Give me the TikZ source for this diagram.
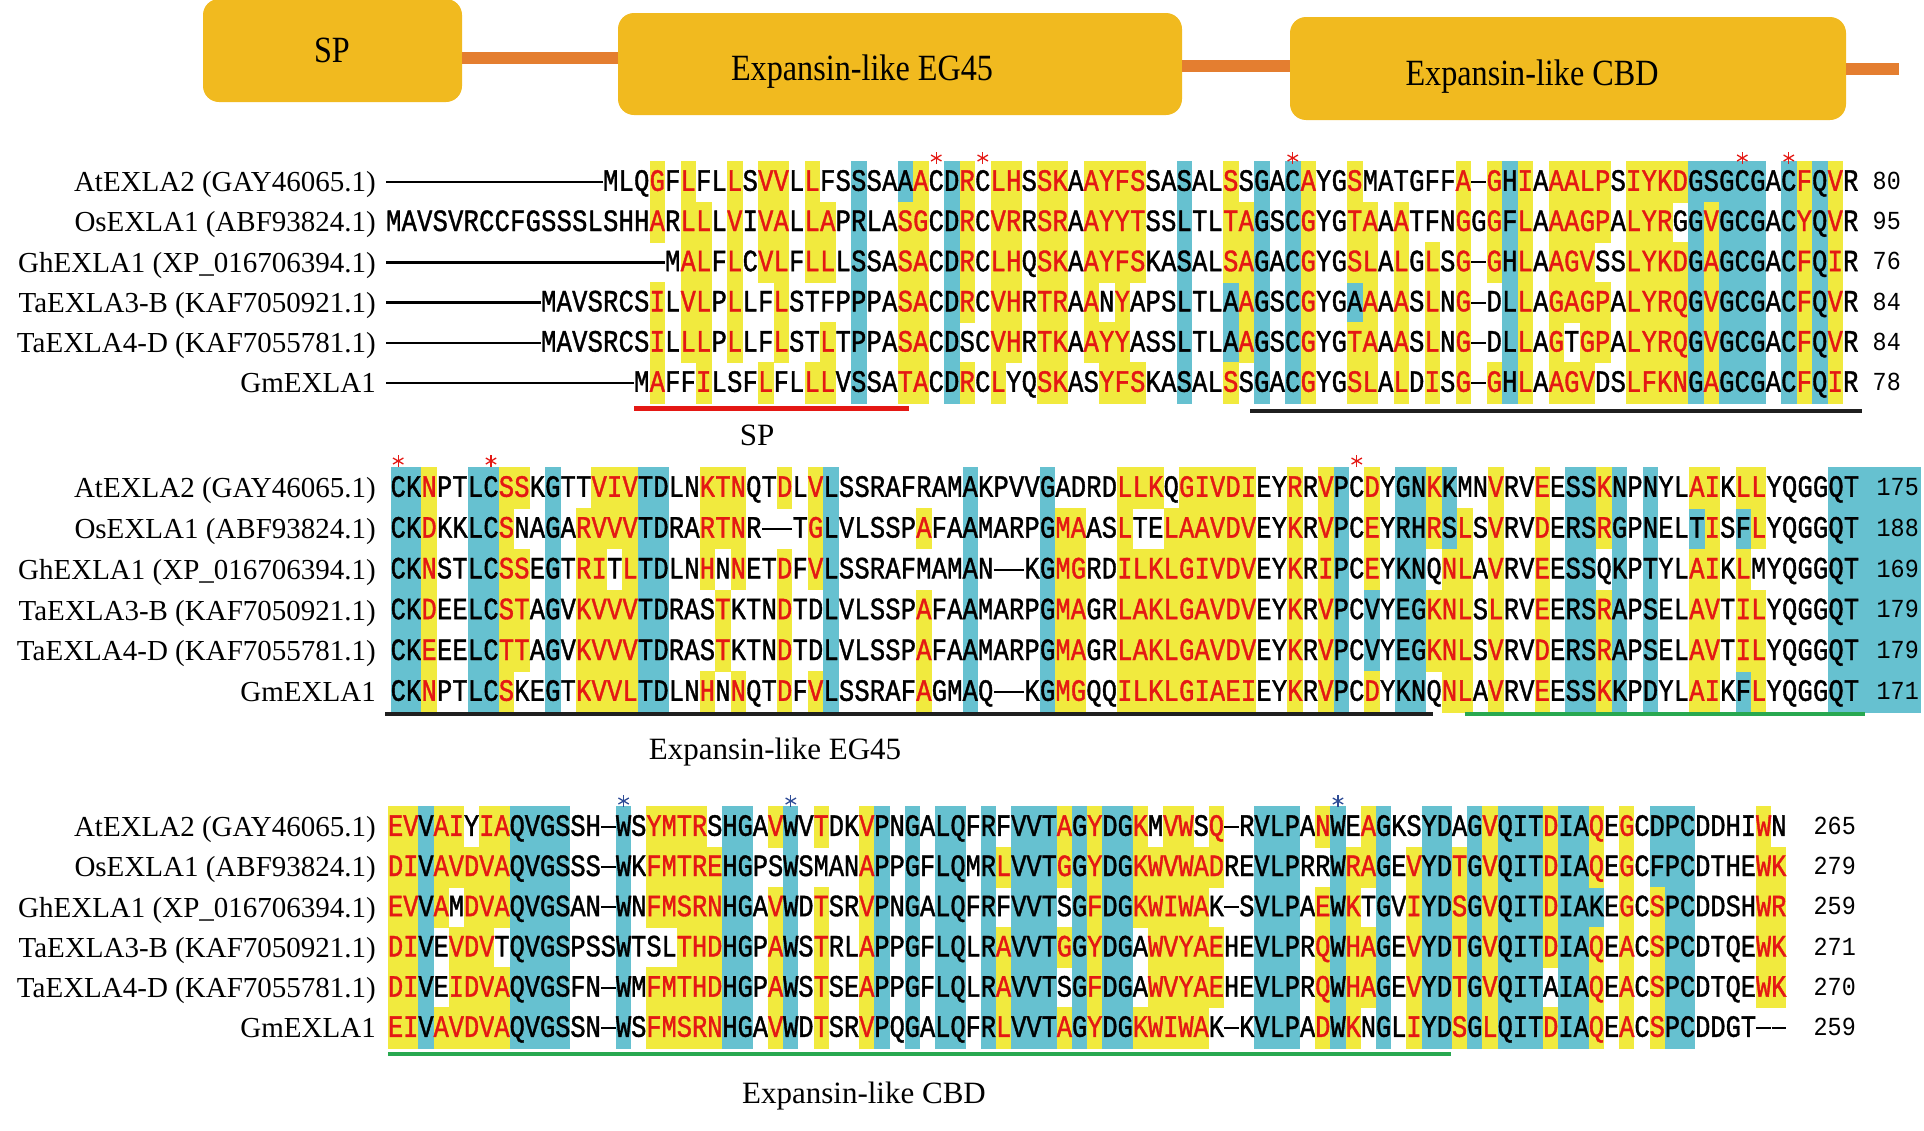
\documentclass[tikz,border=0pt]{standalone}
\usepackage{fontspec}
\setmainfont{Liberation Serif}
\newfontfamily\headfont[FakeStretch=0.87]{Liberation Serif}
\newfontfamily\seqfont[FakeStretch=0.82,FakeBold=1.2]{Liberation Mono}
\newfontfamily\numfont[FakeStretch=0.9]{Liberation Mono}

\definecolor{domfill}{RGB}{241,186,31}
\definecolor{linkorange}{RGB}{228,126,48}
\definecolor{consyellow}{RGB}{241,234,62}
\definecolor{identblue}{RGB}{102,193,208}
\definecolor{redletter}{RGB}{228,24,20}
\definecolor{markblue}{RGB}{45,75,150}
\definecolor{cbdgreen}{RGB}{40,168,80}

\tikzset{
	dombox/.style={fill=domfill, rounded corners=16pt, inner sep=0pt},
	domtext/.style={font=\headfont\fontsize{37}{37}\selectfont, inner sep=0pt, anchor=base},
	linker/.style={draw=linkorange, line width=12pt},
	seqname/.style={font=\fontsize{29}{29}\selectfont, inner sep=0pt, anchor=base east},
	res/.style={font=\seqfont\fontsize{31}{31}\selectfont, inner sep=0pt, anchor=base},
	resred/.style={res, text=redletter},
	conscell/.style={fill=consyellow},
	idcell/.style={fill=identblue},
	gapline/.style={line width=2.4pt},
	gapdash/.style={line width=2pt},
	seqnum/.style={font=\numfont\fontsize{26}{26}\selectfont, inner sep=0pt, anchor=base east},
	region/.style={line width=4.2pt},
	regname/.style={font=\fontsize{31}{31}\selectfont, inner sep=0pt, anchor=base}
}

\makeatletter
\newcount\rescol
% строка выравнивания: x0, шаг, y, остатки (строчные = консервативные)
\newcommand\seqrow[4]{%
	\rescol=0
	\@tfor\res:=#4\do{%
		\advance\rescol by 1
		\pgfmathsetmacro\resl{#1+(\the\rescol-1)*#2}%
		\pgfmathsetmacro\resr{#1+\the\rescol*#2}%
		\pgfmathsetmacro\resc{#1+(\the\rescol-0.5)*#2}%
		\if\res.%
			\draw [gapline] (\resl,#3) -- (\resr,#3);%
		\else\if\res-%
			\draw [gapdash] (\resl+0.3,#3) -- (\resr-0.3,#3);%
		\else\ifnum\expandafter`\res>96
			\fill [conscell] (\resl,#3-20.6) rectangle (\resr,#3+20.6);%
			\node [resred] at (\resc,#3+8.8) {\expandafter\uppercase\expandafter{\res}};%
		\else
			\node [res] at (\resc,#3+8.8) {\res};%
		\fi\fi\fi}}
% идентичные столбцы: x0, шаг, верх, низ, маска
\newcommand\idcols[5]{%
	\rescol=0
	\@tfor\res:=#5\do{%
		\advance\rescol by 1
		\if\res b%
			\fill [idcell] ({#1+(\the\rescol-1)*#2},#3) rectangle ({#1+\the\rescol*#2},#4);%
		\fi}}
\makeatother
% звёздочка над цистеином / триптофаном
\newcommand\cysmark[3]{%
	\foreach \ang in {90,30,150}
		\draw [draw=#3, line width=1.3pt] (#1,#2) ++(\ang:6) -- ++(\ang+180:12);}

\begin{document}
\begin{tikzpicture}[x=1pt, y=-1pt]
	\useasboundingbox (0,0) rectangle (1924,1130);

	% домены
	\node [dombox, minimum width=259pt, minimum height=103pt] (sp) at (332.5,50.5) {};
	\node [dombox, minimum width=564pt, minimum height=102pt] (eg) at (900,64) {};
	\node [dombox, minimum width=556pt, minimum height=103pt] (cbd) at (1568,68.5) {};
	\coordinate (tail) at (1899,69);
	\draw [linker] ([yshift=-7.5pt]sp.east) -- ([yshift=6pt]eg.west);
	\draw [linker] ([yshift=-1.5pt]eg.east) -- ([yshift=3pt]cbd.west);
	\draw [linker] ([yshift=-0.5pt]cbd.east) -- (tail);
	\node [domtext] (sptext) at (332,62) {SP};
	\node [domtext] (egtext) at (862,80) {Expansin-like EG45};
	\node [domtext] (cbdtext) at (1532,85) {Expansin-like CBD};

	% блок 1
	\idcols{386}{15.5}{161.4}{403.6}{..............................b..bb.b.....b........b..b.b.bb..b.........b.........b.bbbbb.b.b}
	\seqrow{386}{15.5}{182}{..............MLQgFlFLlSvvLlFSSSAAaCDrClhSskAayfsSASALsSGACaYGsMATGFFa-gHiAaalpSiykdGSGCGACfQvR}
	\seqrow{386}{15.5}{222.2}{MAVSVRCCFGSSSLSHHaRllLvIvaLlaPRLAsgCDrCvrRsrAayytSSLTLtaGSCgYGtaAaTFNgGgFlAaagpAlyrGGvGCGACyQvR}
	\seqrow{386}{15.5}{262.4}{..................MalFlCvlFllLSSAsaCDrClhQskAayfsKASALsaGACgYGslAlGlSg-gHlAagvSSlykdGaGCGACfQiR}
	\seqrow{386}{15.5}{302.6}{..........MAVSRCSiLvlPlLFlSTFPPPAsaCDrCvhRtrAaNyAPSLTLAaGSCgYGAaAaSlNg-DLlAgagpAlyrqGvGCGACfQvR}
	\seqrow{386}{15.5}{342.8}{..........MAVSRCSiLllPlLFlSTlTPPAsaCDSCvhRtkAayyASSLTLAaGSCgYGtaAaSlNg-DLlAgTgpAlyrqGvGCGACfQvR}
	\seqrow{386}{15.5}{383}{................MaFFiLSFlFLllVSSAtaCDrClYQskASyfsKASALsSGACgYGslAlDiSg-gHlAagvDSlfknGaGCGACfQiR}
	\node [seqname] (at1) at (376,182+9.6) {AtEXLA2 (GAY46065.1)};
	\node [seqname] (os1) at (376,222.2+9.6) {OsEXLA1 (ABF93824.1)};
	\node [seqname] (gh1) at (376,262.4+9.6) {GhEXLA1 (XP\_016706394.1)};
	\node [seqname] (ta31) at (376,302.6+9.6) {TaEXLA3-B (KAF7050921.1)};
	\node [seqname] (ta41) at (376,342.8+9.6) {TaEXLA4-D (KAF7055781.1)};
	\node [seqname] (gm1) at (376,383+9.6) {GmEXLA1};
	\node [seqnum] (at1n) at (1901,182+7.5) {80};
	\node [seqnum] (os1n) at (1901,222.2+7.5) {95};
	\node [seqnum] (gh1n) at (1901,262.4+7.5) {76};
	\node [seqnum] (ta31n) at (1901,302.6+7.5) {84};
	\node [seqnum] (ta41n) at (1901,342.8+7.5) {84};
	\node [seqnum] (gm1n) at (1901,383+7.5) {78};
	\cysmark{936.25}{158}{redletter}
	\cysmark{982.75}{158}{redletter}
	\cysmark{1292.75}{158}{redletter}
	\cysmark{1742.25}{158}{redletter}
	\cysmark{1788.75}{158}{redletter}
	\draw [region, draw=redletter] (634,408.5) -- (909,408.5);
	\draw [region, draw=black!88] (1250,411) -- (1862,411);
	\node [regname] (spname) at (757,445) {SP};

	% блок 2
	\idcols{390.5}{15.46}{467.4}{712.6}{bb...bb...b.....bb..........b........b....b.................bb.b.bb.b.......bb.b.b..b..b.....bbbbbb}
	\seqrow{390.5}{15.46}{488}{CKnPTLCssKGTTvivTDLNktnQTdLvLSSRAFRAMAKPVVGADRDllkQgivdiEYrRvPCdYGNkKMNvRVeESSkNPNYLaiKllYQGGQT}
	\seqrow{390.5}{15.46}{528.8}{CKdKKLCsNAGArvvvTDRArtnR--TgLVLSSPaFAAMARPGmaASlTElaavdvEYkRvPCeYRHrSlSvRVdERSrGPNELTiSFlYQGGQT}
	\seqrow{390.5}{15.46}{569.6}{CKnSTLCssEGTriTlTDLNhNnETdFvLSSRAFMAMAN--KGmgRDilklgivdvEYkRiPCeYKNQnlAvRVeESSQKPTYLaiKlMYQGGQT}
	\seqrow{390.5}{15.46}{610.4}{CKdEELCstAGVkvvvTDRAStKTNdTDLVLSSPaFAAMARPGmaGRlaklgavdvEYkRvPCVYEGknlSlRVeERSrAPSELavTilYQGGQT}
	\seqrow{390.5}{15.46}{651.2}{CKeEELCttAGVkvvvTDRAStKTNdTDLVLSSPaFAAMARPGmaGRlaklgavdvEYkRvPCVYEGknlSvRVdERSrAPSELavTilYQGGQT}
	\seqrow{390.5}{15.46}{692}{CKnPTLCsKEGTkvvlTDLNhNnQTdFvLSSRAFaGMAQ--KGmgQQilklgiaeiEYkRvPCdYKNQnlAvRVeESSkKPDYLaiKFlYQGGQT}
	\node [seqname] (at2) at (376,488+9.6) {AtEXLA2 (GAY46065.1)};
	\node [seqname] (os2) at (376,528.8+9.6) {OsEXLA1 (ABF93824.1)};
	\node [seqname] (gh2) at (376,569.6+9.6) {GhEXLA1 (XP\_016706394.1)};
	\node [seqname] (ta32) at (376,610.4+9.6) {TaEXLA3-B (KAF7050921.1)};
	\node [seqname] (ta42) at (376,651.2+9.6) {TaEXLA4-D (KAF7055781.1)};
	\node [seqname] (gm2) at (376,692+9.6) {GmEXLA1};
	\node [seqnum] (at2n) at (1919,488+7.5) {175};
	\node [seqnum] (os2n) at (1919,528.8+7.5) {188};
	\node [seqnum] (gh2n) at (1919,569.6+7.5) {169};
	\node [seqnum] (ta32n) at (1919,610.4+7.5) {179};
	\node [seqnum] (ta42n) at (1919,651.2+7.5) {179};
	\node [seqnum] (gm2n) at (1919,692+7.5) {171};
	\cysmark{398.2}{461}{redletter}
	\cysmark{491}{461}{redletter}
	\cysmark{1356.75}{461}{redletter}
	\draw [region, draw=black!88] (385,714) -- (1433,714);
	\draw [region, draw=cbdgreen] (1465,714) -- (1865,714);
	\node [regname] (egname) at (775,759) {Expansin-like EG45};

	% блок 3
	\idcols{388}{15.2}{806.4}{1048.6}{..b.....bbbb...b......bb..b.....b.b.bb.b.bbb.b.bb........bbb..b..b..bb.b.bbb.bbb.b.bbb.....}
	\seqrow{388}{15.2}{827}{evVaiYiaQVGSSH-WSymtrSHGAvWVtDKvPNGALQFRFVVTaGyDGkMvwSq-RVLPAnWEaGKSYDAGvQITdIAqEgCDPCDDHIwN}
	\seqrow{388}{15.2}{867.2}{diVavdvaQVGSSS-WKfmtreHGPSWSMANaPPGFLQMRlVVTgGyDGkwvwadREVLPRRWraGEvYDtGvQITdIAqEgCFPCDTHEwk}
	\seqrow{388}{15.2}{907.4}{evVaMdvaQVGSAN-WNfmsrnHGAvWDtSRvPNGALQFRFVVTSGfDGkwiwaK-SVLPAeWkTGViYDsGvQITdIAKEgCsPCDDSHwr}
	\seqrow{388}{15.2}{947.6}{diVEvdvTQVGSPSSWTSLthdHGPaWStRLaPPGFLQLRaVVTgGyDGAwvyaeHEVLPRqWhaGEvYDtGvQITdIAqEaCsPCDTQEwk}
	\seqrow{388}{15.2}{987.8}{diVEidvaQVGSFN-WMfmthdHGPaWStSEaPPGFLQLRaVVTSGfDGAwvyaeHEVLPRqWhaGEvYDtGvQITAIAqEaCsPCDTQEwk}
	\seqrow{388}{15.2}{1028}{eiVavdvaQVGSSN-WSfmsrnHGAvWDtSRvPQGALQFRlVVTaGyDGkwiwaK-KVLPAdWkNGLiYDsGlQITdIAqEaCsPCDDGT--}
	\node [seqname] (at3) at (376,827+9.6) {AtEXLA2 (GAY46065.1)};
	\node [seqname] (os3) at (376,867.2+9.6) {OsEXLA1 (ABF93824.1)};
	\node [seqname] (gh3) at (376,907.4+9.6) {GhEXLA1 (XP\_016706394.1)};
	\node [seqname] (ta33) at (376,947.6+9.6) {TaEXLA3-B (KAF7050921.1)};
	\node [seqname] (ta43) at (376,987.8+9.6) {TaEXLA4-D (KAF7055781.1)};
	\node [seqname] (gm3) at (376,1028+9.6) {GmEXLA1};
	\node [seqnum] (at3n) at (1856,827+7.5) {265};
	\node [seqnum] (os3n) at (1856,867.2+7.5) {279};
	\node [seqnum] (gh3n) at (1856,907.4+7.5) {259};
	\node [seqnum] (ta33n) at (1856,947.6+7.5) {271};
	\node [seqnum] (ta43n) at (1856,987.8+7.5) {270};
	\node [seqnum] (gm3n) at (1856,1028+7.5) {259};
	\cysmark{623.6}{801}{markblue}
	\cysmark{790.8}{801}{markblue}
	\cysmark{1338}{801}{markblue}
	\draw [region, draw=cbdgreen] (388,1054) -- (1451,1054);
	\node [regname] (cbdname) at (864,1103) {Expansin-like CBD};
\end{tikzpicture}
\end{document}
